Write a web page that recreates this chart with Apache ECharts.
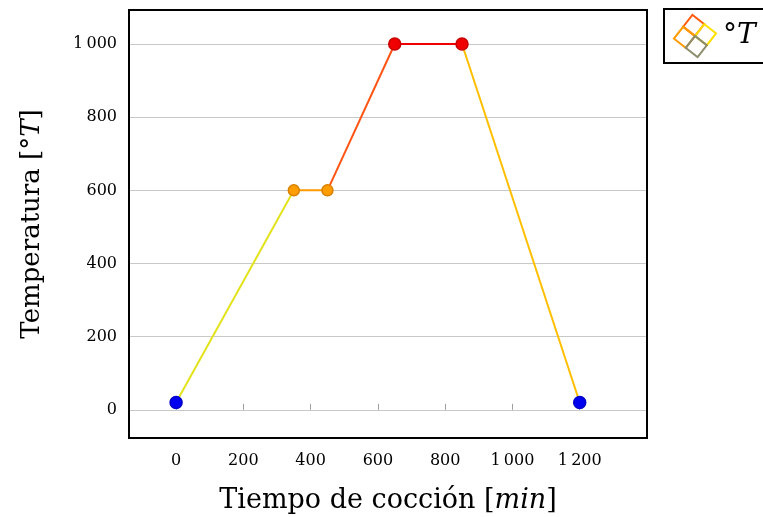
<!DOCTYPE html>
<html><head><meta charset="utf-8">
<script src="https://cdn.jsdelivr.net/npm/echarts@6/dist/echarts.min.js"></script>
<style>html,body{margin:0;padding:0;background:#fff}#c{width:763px;height:517px}</style>
</head><body><div id="c"></div>
<script>
// Data
const timeMin = [0, 350, 450, 650, 850, 1200];
const tempT = [20, 600, 600, 1000, 1000, 20];
const xTicks = [0, 200, 400, 600, 800, 1000, 1200];
const yTicks = [0, 200, 400, 600, 800, 1000];
const blueIdx = [0, 5];
const orangeIdx = [1, 2];
const redIdx = [3, 4];
const seriesName = '°T';

const segColors = ['#e3e31c', '#ff9900', '#ff5514', '#f00000', '#ffbf00'];
const FONT = 'DejaVu Serif';
const fmt = v => {
  const s = String(Math.round(v));
  return s.length > 3 ? s.slice(0, s.length - 3) + '\u2009' + s.slice(-3) : s;
};

const series = [];
// grid lines (drawn first, underneath)
series.push({
  type: 'line', name: 'grid', data: [], silent: true, z: 1,
  markLine: {
    silent: true, symbol: 'none', label: { show: false }, z: 1,
    lineStyle: { color: '#c8c8c8', width: 1, type: 'solid' },
    data: yTicks.map(v => ({ yAxis: v }))
  }
});
for (let i = 0; i < timeMin.length - 1; i++) {
  series.push({
    type: 'line', name: i === 0 ? seriesName : 'seg' + i,
    data: [[timeMin[i], tempT[i]], [timeMin[i + 1], tempT[i + 1]]],
    showSymbol: false, silent: true,
    lineStyle: { color: segColors[i], width: 2 },
    itemStyle: { color: segColors[i] },
    z: 6
  });
}
function markers(idx, fill, border, size) {
  return {
    type: 'scatter', name: 'm' + fill,
    data: idx.map(i => [timeMin[i], tempT[i]]),
    symbolSize: size,
    itemStyle: { color: fill, borderColor: border, borderWidth: 1.5, opacity: 1 },
    z: 8
  };
}
series.push(markers(blueIdx, '#0000f0', '#0000c8', 12));
series.push(markers(orangeIdx, '#ff9c00', '#d98200', 11));
series.push(markers(redIdx, '#f00000', '#c80000', 12));

// legend icon: 2x2 grid of squares rotated
const PHI = 38 * Math.PI / 180, S = 15, GC = [695, 36];
const iconSq = (a, b, color) => ({
  type: 'rect', z: 200,
  x: GC[0] + a * Math.cos(PHI) - b * Math.sin(PHI),
  y: GC[1] + a * Math.sin(PHI) + b * Math.cos(PHI),
  rotation: -PHI,
  shape: { x: -S / 2, y: -S / 2, width: S, height: S },
  style: { fill: null, stroke: color, lineWidth: 2 }
});

const chart = echarts.init(document.getElementById('c'));
chart.setOption({
  animation: false,
  grid: { left: 129, top: 10, width: 518, height: 428, outerBoundsMode: 'none', containLabel: false,
    show: true, borderColor: '#000', borderWidth: 2, backgroundColor: 'transparent', z: 10 },
  xAxis: {
    type: 'value', min: -140, max: 1400,
    name: 'Tiempo de cocción [{i|min}]', nameLocation: 'middle', nameGap: 49,
    nameTextStyle: { fontFamily: FONT, fontSize: 27, color: '#000',
      rich: { i: { fontFamily: FONT, fontSize: 27, fontStyle: 'italic', color: '#000' } } },
    axisLine: { show: false },
    axisTick: { show: true, inside: true, length: 6, lineStyle: { color: '#a0a0a0' }, customValues: xTicks },
    axisLabel: { fontFamily: FONT, fontSize: 16, color: '#000', margin: 15, customValues: xTicks, formatter: fmt },
    splitLine: { show: false }
  },
  yAxis: {
    type: 'value', min: -77, max: 1093,
    name: 'Temperatura [°{i|T}]', nameLocation: 'middle', nameGap: 84, nameRotate: 90,
    nameTextStyle: { fontFamily: FONT, fontSize: 26, color: '#000',
      rich: { i: { fontFamily: FONT, fontSize: 26, fontStyle: 'italic', color: '#000' } } },
    axisLine: { show: false },
    axisTick: { show: true, inside: true, length: 6, lineStyle: { color: '#a0a0a0' }, customValues: yTicks },
    axisLabel: { fontFamily: FONT, fontSize: 16, color: '#000', margin: 12, customValues: yTicks, formatter: fmt },
    splitLine: { show: false }
  },
  legend: {
    left: 664, top: 9, orient: 'vertical',
    data: [{ name: seriesName, icon: 'rect', itemStyle: { color: 'transparent', opacity: 0 } }],
    itemWidth: 52, itemHeight: 46, itemGap: 0,
    padding: [4, 40, 4, 6],
    borderColor: '#000', borderWidth: 2,
    formatter: () => '{a|°}{b|T}',
    textStyle: { padding: [0, 0, 0, -4], rich: {
      a: { fontFamily: FONT, fontSize: 28, color: '#000' },
      b: { fontFamily: FONT, fontSize: 28, fontStyle: 'italic', color: '#000' } } },
    selectedMode: false
  },
  graphic: [
    iconSq(-S / 2, -S / 2, '#ff5a0a'),
    iconSq(-S / 2, S / 2, '#ff9c00'),
    iconSq(S / 2, -S / 2, '#ffe000'),
    iconSq(S / 2, S / 2, '#8c8c6c')
  ],
  series: series
});
</script></body></html>
